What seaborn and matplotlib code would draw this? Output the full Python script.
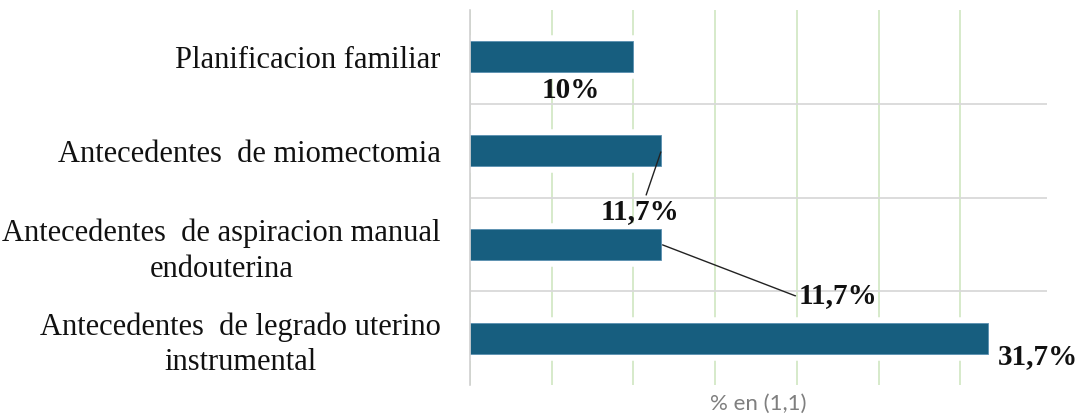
import seaborn as sns
import pandas as pd
import matplotlib.pyplot as plt
from matplotlib import patheffects as pe
from matplotlib.ticker import FixedLocator

# datos
categorias = [
    "Planificacion familiar",
    "Antecedentes  de miomectomia",
    "Antecedentes  de aspiracion manual\nendouterina",
    "Antecedentes  de legrado uterino\ninstrumental",
]
porcentajes = [10, 11.7, 11.7, 31.7]
etiquetas = ["10%", "11,7%", "11,7%", "31,7%"]

df = pd.DataFrame({"categoria": categorias, "porcentaje": porcentajes})

sns.set_style("white")
plt.rcParams['font.family'] = ['Liberation Serif', 'DejaVu Serif']

fig = plt.figure(figsize=(10.82, 4.19), dpi=100)
ax = fig.add_axes([0.4344, 0.0811, 0.5333, 0.895])

sns.barplot(data=df, x="porcentaje", y="categoria", orient="h",
            color="#175E7F", width=0.33, saturation=1, ax=ax)

# borde blanco alrededor de las barras (tapa la cuadricula)
for p in ax.patches:
    p.set_edgecolor("#5a8fb0")
    p.set_linewidth(0.6)
    p.set_path_effects([pe.withStroke(linewidth=9, foreground="white")])

ax.set_xlim(0, 35.3)
ax.set_ylim(3.5, -0.5)
ax.set_xticks(range(0, 35, 5))
ax.set_xticklabels([])
ax.tick_params(axis="x", length=0)
ax.yaxis.set_minor_locator(FixedLocator([0.5, 1.5, 2.5]))
ax.grid(axis="x", which="major", color="#d3e8c6", linewidth=1.3)
ax.grid(axis="y", which="major", visible=False)
ax.grid(axis="y", which="minor", color="#d9d9d9", linewidth=1.3)
ax.set_axisbelow(True)
ax.tick_params(axis="y", which="both", length=0, pad=21)

ax.set_yticks(range(len(categorias)))
ax.set_yticklabels(categorias, fontsize=22, linespacing=1.3,
                   multialignment="center", color="#111111")

for s in ["top", "right", "bottom"]:
    ax.spines[s].set_visible(False)
ax.spines["left"].set_color("#d0d0d0")
ax.spines["left"].set_linewidth(1.2)

ax.set_ylabel("")
ax.set_xlabel("% en (1,1)", fontsize=16, color="#7f7f7f",
              family=["Lato", "DejaVu Sans"], labelpad=3)

# etiquetas de datos
kw = dict(textcoords="offset points", fontsize=21, fontweight="bold", color="#111111")
ax.annotate(etiquetas[0], xy=(porcentajes[0], 0), xytext=(-45, -24.5),
            ha="center", va="center", **kw)
ax.annotate(etiquetas[1], xy=(porcentajes[1], 1), xytext=(-15, -44),
            ha="center", va="center",
            arrowprops=dict(arrowstyle="-", color="#222222", lw=1,
                            shrinkA=0, shrinkB=1), **kw)
ax.annotate(etiquetas[2], xy=(porcentajes[2], 2), xytext=(99, -37),
            ha="left", va="center",
            arrowprops=dict(arrowstyle="-", color="#222222", lw=1,
                            relpos=(0, 0.5), shrinkA=0, shrinkB=1,
                            connectionstyle="angle,angleA=0,angleB=-21,rad=0"), **kw)
ax.annotate(etiquetas[3], xy=(porcentajes[3], 3), xytext=(7, -13),
            ha="left", va="center", **kw)

plt.savefig("out.png", dpi=100)
